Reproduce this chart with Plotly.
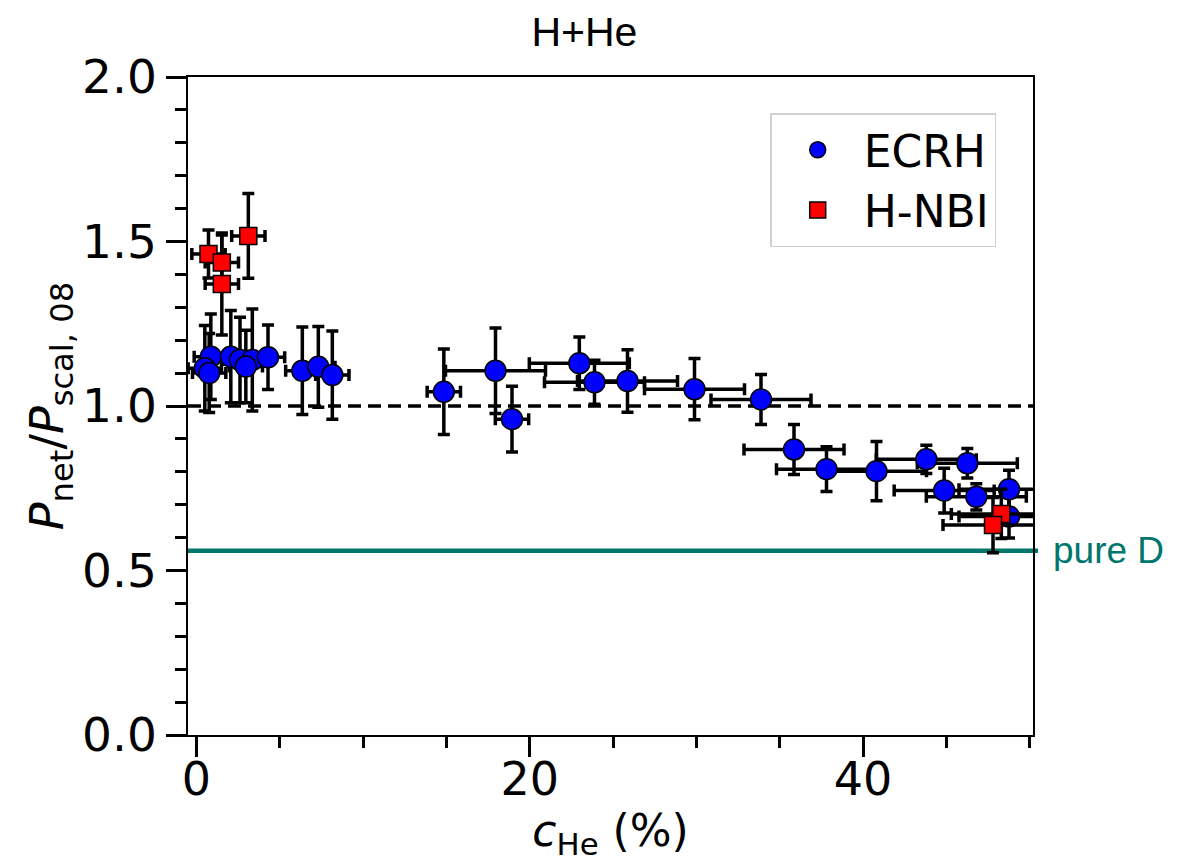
import plotly.graph_objects as go

# ECRH data
ecrh_x = [0.87, 0.51, 0.77, 2.07, 2.62, 3.36, 2.97, 4.30, 6.36, 7.32, 8.16,
          14.85, 17.95, 18.94, 22.98, 23.89, 25.87, 29.89, 33.88, 35.86,
          37.81, 40.81, 43.80, 46.26, 44.87, 46.80, 48.76, 48.76]
ecrh_y = [1.150, 1.115, 1.100, 1.150, 1.140, 1.140, 1.120, 1.148, 1.107, 1.119, 1.094,
          1.043, 1.107, 0.960, 1.130, 1.072, 1.076, 1.051, 1.020, 0.868,
          0.808, 0.802, 0.838, 0.826, 0.743, 0.724, 0.747, 0.664]
ecrh_xerr = [1.0] * 11 + [1.0, 3.0, 1.0] + [3.0] * 14
ecrh_yerr = [0.13, 0.13, 0.12, 0.14, 0.13, 0.155, 0.11, 0.098, 0.133, 0.123, 0.134,
             0.13, 0.13, 0.10, 0.08, 0.067, 0.095, 0.093, 0.076, 0.076,
             0.068, 0.09, 0.043, 0.045, 0.068, 0.04, 0.058, 0.065]

# H-NBI data
nbi_x = [0.73, 1.53, 1.53, 3.12, 48.30, 47.80]
nbi_y = [1.462, 1.436, 1.371, 1.517, 0.672, 0.638]
nbi_xerr = [1.0, 1.0, 1.0, 1.0, 3.0, 3.0]
nbi_yerr = [0.073, 0.084, 0.155, 0.129, 0.075, 0.084]

ref_level = 1.0
pure_d_level = 0.56

x_range = [-0.5, 50.2]
y_range = [0.0, 2.0]
x_major = [0, 20, 40]
x_minor = [5, 10, 15, 25, 30, 35, 45, 50]
y_major = [0.0, 0.5, 1.0, 1.5, 2.0]

TEAL = "#00766c"
FONT = "DejaVu Sans"
ARIAL = "Liberation Sans, Arial"

fig = go.Figure()

err_style = dict(color="black", thickness=3.5, width=6)

fig.add_trace(go.Scatter(
    x=ecrh_x, y=ecrh_y, mode="markers", name="ECRH",
    marker=dict(symbol="circle", size=21, color="#0000ff",
                line=dict(color="black", width=1.5)),
    error_x=dict(type="data", array=ecrh_xerr, visible=True, **err_style),
    error_y=dict(type="data", array=ecrh_yerr, visible=True, **err_style),
))
fig.add_trace(go.Scatter(
    x=nbi_x, y=nbi_y, mode="markers", name="H-NBI",
    marker=dict(symbol="square", size=17, color="#ff0000",
                line=dict(color="black", width=1.5)),
    error_x=dict(type="data", array=nbi_xerr, visible=True, **err_style),
    error_y=dict(type="data", array=nbi_yerr, visible=True, **err_style),
))

# dashed reference line at 1.0
fig.add_shape(type="line", xref="x domain", yref="y", x0=0, x1=1,
              y0=ref_level, y1=ref_level,
              line=dict(color="black", width=3.5, dash="13px,7px"), layer="below")
# pure D line
fig.add_shape(type="line", xref="x domain", yref="y", x0=0, x1=1.006,
              y0=pure_d_level, y1=pure_d_level,
              line=dict(color=TEAL, width=4.5), layer="below")
fig.add_annotation(xref="x domain", yref="y", x=1.021, y=pure_d_level,
                   text="pure D", showarrow=False, xanchor="left", yanchor="middle",
                   font=dict(family=ARIAL, size=37, color=TEAL))

fig.update_layout(
    width=1183, height=862,
    margin=dict(l=188, r=150, t=77, b=127, autoexpand=False),
    paper_bgcolor="white", plot_bgcolor="white",
    font=dict(family=FONT, size=46, color="black"),
    title=dict(text="H+He", x=0.494, xref="container", y=1 - 32 / 862,
               yref="container", xanchor="center", yanchor="middle",
               font=dict(family=ARIAL, size=41, color="black")),
    showlegend=True,
    legend=dict(x=0.689, y=0.945, xanchor="left", yanchor="top",
                bgcolor="white", bordercolor="#d0d0d0", borderwidth=1.5,
                font=dict(family=FONT, size=44), itemsizing="trace",
                itemwidth=82, tracegroupgap=0),
)

fig.update_xaxes(
    range=x_range, showgrid=False, zeroline=False, automargin=False,
    showline=True, linecolor="black", linewidth=1.5, mirror=True,
    ticks="outside", ticklen=20, tickwidth=2.5, tickcolor="black",
    tickmode="array", tickvals=x_major, ticklabelstandoff=-17,
    minor=dict(tickmode="array", tickvals=x_minor,
               ticks="outside", ticklen=11, tickwidth=2.5, tickcolor="black"),
    tickfont=dict(family=FONT, size=46),
    title=dict(text="<i>c</i><sub>He</sub> (%)", standoff=10,
               font=dict(family=FONT, size=44)),
)
fig.update_yaxes(
    range=y_range, showgrid=False, zeroline=False, automargin=False,
    showline=True, linecolor="black", linewidth=1.5, mirror=True,
    ticks="outside", ticklen=20, tickwidth=2.5, tickcolor="black",
    tickmode="array", tickvals=y_major, tickformat=".1f",
    minor=dict(dtick=0.1, ticks="outside", ticklen=11, tickwidth=2.5,
               tickcolor="black"),
    tickfont=dict(family=FONT, size=47),
    title=dict(text="<i>P</i><sub>net</sub>/<i>P</i><sub>scal, 08</sub>", standoff=4,
               font=dict(family=FONT, size=46)),
)

fig.write_html("out.html", config={"displayModeBar": False},
               post_script="document.body.style.margin='0';document.body.style.overflow='hidden';")
